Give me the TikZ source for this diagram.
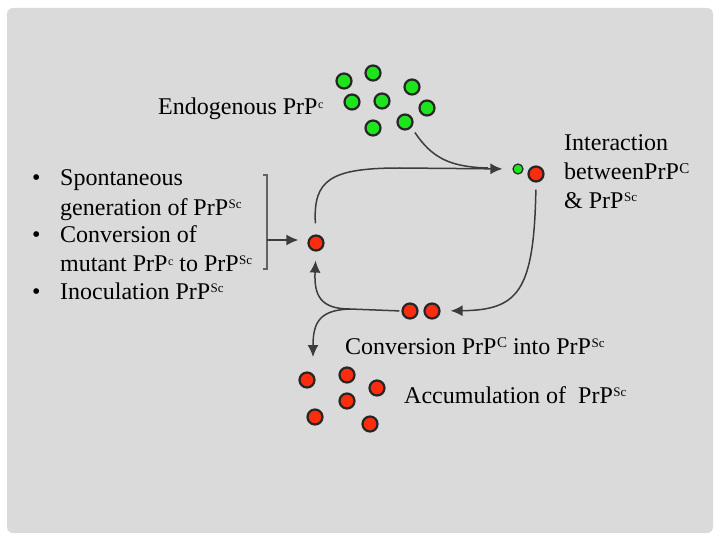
\documentclass[tikz,border=0pt]{standalone}
\usepackage{fontspec}
\setmainfont{Liberation Serif}
\usepackage{xcolor}
\usepackage{tikz}
\usetikzlibrary{arrows.meta}
\definecolor{slide}{RGB}{218,218,218}
\definecolor{pcgreen}{RGB}{30,228,30}
\definecolor{scred}{RGB}{250,45,15}
\definecolor{linkgray}{RGB}{60,60,60}
\newcommand{\supc}{\kern0.5pt\raisebox{6pt}{\fontsize{12}{12}\selectfont c}}
\newcommand{\supC}{\kern0.5pt\raisebox{6.5pt}{\fontsize{15}{15}\selectfont C}}
\newcommand{\supSc}{\kern0.5pt\raisebox{7pt}{\fontsize{13}{13}\selectfont Sc}}
\tikzset{
	prion/.style={circle,draw=black!85,line width=2.2pt,minimum size=15pt,inner sep=0pt},
	pc/.style={prion,fill=pcgreen},
	psc/.style={prion,fill=scred},
	link/.style={draw=linkgray,line width=1.5pt},
	tip/.style={-{Latex[length=12pt,width=11pt]}},
	txt/.style={anchor=base west,inner sep=0pt,font=\rmfamily\fontsize{24}{29}\selectfont},
}

\begin{document}
\begin{tikzpicture}[x=1pt,y=-1pt]
				\useasboundingbox (0,0) rectangle (720,540);
				\fill[white] (0,0) rectangle (720,540);
				\fill[slide,rounded corners=6pt] (7,8) rectangle (713,533);

				\node[pc] (g1) at (344,81) {};%cluster of PrPc
				\node[pc] (g2) at (373,73) {};
				\node[pc] (g3) at (412,87) {};
				\node[pc] (g4) at (352,102) {};
				\node[pc] (g5) at (382,101) {};
				\node[pc] (g6) at (427,108) {};
				\node[pc] (g7) at (373,128) {};
				\node[pc] (g8) at (405,122) {};
				\node[pc,minimum size=10pt,line width=1.2pt] (ipc) at (518,169) {};%interaction
				\node[psc] (ipsc) at (536,174) {};
				\node[psc] (sc) at (316,243) {};%single PrPSc
				\node[psc] (cp1) at (410,311) {};%conversion pair
				\node[psc] (cp2) at (432,311) {};
				\node[psc] (a1) at (307,380) {};%accumulation
				\node[psc] (a2) at (347,375) {};
				\node[psc] (a3) at (377,388) {};
				\node[psc] (a4) at (347,401) {};
				\node[psc] (a5) at (315,417) {};
				\node[psc] (a6) at (370,424) {};

				\coordinate (split) at (350,309);%branch point
				\coordinate (dtip) at (313,357);%down arrow
				\coordinate (bt) at (267,175);%bracket
				\coordinate (bb) at (267,269);
				\coordinate (bm) at (267,240);

				\draw[link,tip,shorten <=11pt,shorten >=10pt] (sc.north) .. controls (313,180) and (330,168) .. (400,168) -- (ipc.west);
				\draw[link,shorten <=6pt] (g8.-40) .. controls (432,158) and (450,167) .. (488,168);
				\draw[link,tip,shorten <=7pt,shorten >=10pt] (ipsc.south) .. controls (534,292) and (518,310) .. (cp2.east);
				\draw[link,shorten <=2pt] (cp1.west) -- (split);
				\draw[link,tip,shorten >=9pt] (split) .. controls (320,309) and (314,295) .. (sc.south);
				\draw[link,tip] (split) .. controls (320,310) and (313,322) .. (dtip);
				\draw[linkgray!80,line width=1.8pt] ([xshift=-4pt]bt) -- (bt) -- (bb) -- ([xshift=-4pt]bb);
				\draw[link,tip,shorten >=9pt] (bm) -- (bm -| sc.west);

				\node[txt] (endo) at (158,115) {Endogenous PrP\supc};
				\node[txt] (int1) at (564,151) {Interaction};
				\node[txt] (int2) at (564,180) {betweenPrP\supC};
				\node[txt] (int3) at (564,209) {\& PrP\supSc};
				\node[txt] (bul1) at (32,186) {\textbullet};
				\node[txt] (src1) at (60,186) {Spontaneous};
				\node[txt] (src2) at (60,215) {generation of PrP\supSc};
				\node[txt] (bul2) at (32,243) {\textbullet};
				\node[txt] (src3) at (60,243) {Conversion of};
				\node[txt] (src4) at (60,271) {mutant PrP\supc{} to PrP\supSc};
				\node[txt] (bul3) at (32,299) {\textbullet};
				\node[txt] (src5) at (60,299) {Inoculation PrP\supSc};
				\node[txt] (conv) at (345,354) {Conversion PrP\supC{} into PrP\supSc};
				\node[txt] (accu) at (404,403) {Accumulation of~ PrP\supSc};
			\end{tikzpicture}
\end{document}
